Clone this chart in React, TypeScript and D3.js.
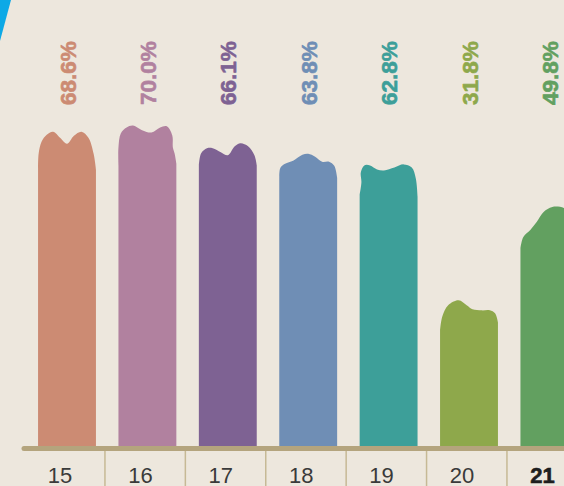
import React from "react";
import * as d3 from "d3";

const categories = ["15", "16", "17", "18", "19", "20", "21"];
const values = [68.6, 70.0, 66.1, 63.8, 62.8, 31.8, 49.8];
const labels = ["68.6%", "70.0%", "66.1%", "63.8%", "62.8%", "31.8%", "49.8%"];
const colors = ["#CC8B73", "#B1819F", "#7E6293", "#6F8EB5", "#3D9F99", "#8EA84B", "#62A060"];
const highlight = "21";

// blob top profiles: [fraction across bar, px below the peak]
const profiles: [number, number][][] = [
  [[0, 38], [0.01, 22], [0.06, 10], [0.15, 3], [0.26, 0], [0.38, 6], [0.5, 12], [0.62, 4], [0.75, 0], [0.87, 6], [0.96, 22], [1, 38]],
  [[0, 40], [0.0, 22], [0.04, 8], [0.14, 2], [0.25, 0], [0.42, 5], [0.57, 7], [0.72, 2], [0.84, 1], [0.93, 10], [0.94, 22], [0.97, 28], [1, 38]],
  [[0, 22], [0.04, 10], [0.14, 5], [0.24, 5], [0.38, 9], [0.5, 12], [0.62, 3], [0.72, 0], [0.85, 3], [0.96, 12], [1, 22]],
  [[0, 22], [0.02, 14], [0.1, 10], [0.24, 7], [0.4, 1], [0.5, 0], [0.62, 3], [0.74, 8], [0.86, 8], [0.95, 12], [1, 24]],
  [[0, 36], [0.03, 24], [0.02, 14], [0.08, 7], [0.18, 7], [0.3, 11], [0.42, 12], [0.6, 9], [0.76, 6], [0.9, 9], [0.97, 20], [1, 38]],
  [[0, 30], [0.04, 16], [0.14, 5], [0.32, 0], [0.46, 5], [0.56, 9], [0.72, 10], [0.86, 10], [0.95, 13], [1, 22]],
  [[0, 30], [0.05, 19], [0.17, 12], [0.28, 4], [0.4, -6], [0.55, -11], [0.75, -10], [0.9, -4], [1, 6]],
];

const W = 564;
const H = 486;
const base = 446;
const font = "'Liberation Sans', Arial, Helvetica, sans-serif";

export default function App() {
  const x = d3.scaleBand<string>().domain(categories).range([26.8, 26.8 + 7 * 80.4]).paddingInner(0.28).paddingOuter(0.14);
  const y = d3.scaleLinear().domain([0, 100]).range([base, base - 458]);
  const bw = x.bandwidth();
  const line = d3.line<[number, number]>().x((d) => d[0]).y((d) => d[1]).curve(d3.curveCatmullRom.alpha(0.5));

  return (
    <svg width={W} height={H} style={{ position: "absolute", left: 0, top: 0, display: "block" }}>
      <rect x={0} y={0} width={W} height={H} fill="#EDE7DD" />
      <polygon points="0,0 11,0 0,41" fill="#0DA9E6" />
      {categories.map((c, i) => {
        const x0 = x(c)!;
        const peak = y(values[i]);
        const pts: [number, number][] = profiles[i].map(([u, d]) => [x0 + u * bw, peak + d]);
        const top = line(pts)!;
        const last = pts[pts.length - 1];
        const d = `M${x0},${base}L${pts[0][0]},${pts[0][1]}` + top.replace(/^M[^C L]*/, "") + `L${last[0]},${base}Z`;
        return (
          <g key={c}>
            <path d={d} fill={colors[i]} />
            <text
              transform={`translate(${x0 + bw / 2 + 8.5},105) rotate(-90)`}
              fill={colors[i]}
              stroke={colors[i]}
              strokeWidth={0.6}
              strokeLinejoin="round"
              fontFamily={font}
              fontWeight="bold"
              fontSize={22.5}
            >
              {labels[i]}
            </text>
          </g>
        );
      })}
      <line x1={24} x2={W + 10} y1={448.5} y2={448.5} stroke="#B4A47D" strokeWidth={5} strokeLinecap="round" />
      {categories.slice(1).map((c) => (
        <line key={c} x1={x(c)! - 13.5} x2={x(c)! - 13.5} y1={451} y2={H} stroke="#C6B995" strokeWidth={1.5} />
      ))}
      {categories.map((c) => (
        <text
          key={c}
          x={x(c)! + bw / 2 - 7}
          y={483}
          textAnchor="middle"
          fontFamily={font}
          fontSize={22}
          fontWeight={c === highlight ? "bold" : "normal"}
          fill={c === highlight ? "#1E1E1E" : "#3A3A3A"}
          stroke={c === highlight ? "#1E1E1E" : "none"}
          strokeWidth={c === highlight ? 0.6 : 0}
        >
          {c}
        </text>
      ))}
    </svg>
  );
}
